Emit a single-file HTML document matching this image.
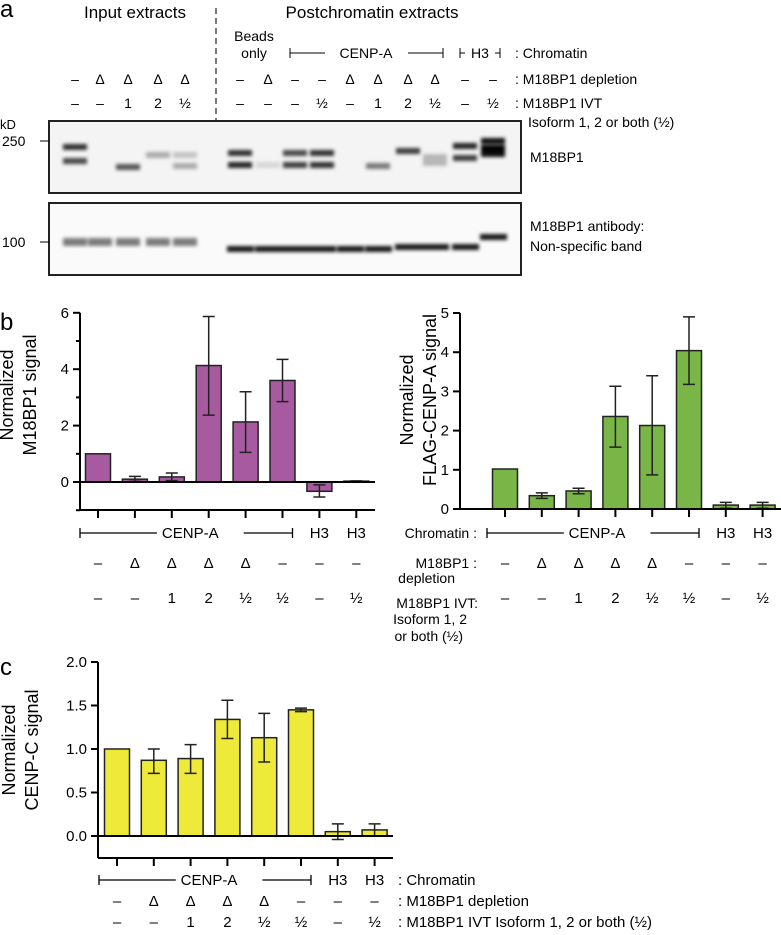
<!DOCTYPE html>
<html><head><meta charset="utf-8"><style>
body{margin:0;background:#fff;}
svg{display:block;font-family:"Liberation Sans",Arial,sans-serif;}
</style></head><body>
<svg id="fig" width="781" height="935" viewBox="0 0 781 935" xmlns="http://www.w3.org/2000/svg">
<defs><filter id="blur" x="-10%" y="-10%" width="120%" height="120%"><feGaussianBlur stdDeviation="1.8"/></filter></defs>
<g id="panelA">
<text x="0" y="17" font-size="24">a</text>
<text x="135" y="18" font-size="17" text-anchor="middle">Input extracts</text>
<text x="372" y="18" font-size="17" text-anchor="middle">Postchromatin extracts</text>
<line x1="216" y1="8" x2="216" y2="120" stroke="#333" stroke-width="1.3" stroke-dasharray="6,4"/>
<text x="254" y="41" font-size="14" text-anchor="middle">Beads</text>
<text x="254" y="58" font-size="14" text-anchor="middle">only</text>
<g stroke="#000" stroke-width="1"><line x1="290" y1="53" x2="325" y2="53"/><line x1="290" y1="48" x2="290" y2="58"/><line x1="408" y1="53" x2="443" y2="53"/><line x1="443" y1="48" x2="443" y2="58"/><line x1="460" y1="48" x2="460" y2="58"/><line x1="460" y1="53" x2="465" y2="53"/><line x1="495" y1="53" x2="500" y2="53"/><line x1="500" y1="48" x2="500" y2="58"/></g>
<text x="366" y="58" font-size="14" text-anchor="middle">CENP-A</text>
<text x="480" y="58" font-size="14" text-anchor="middle">H3</text>
<text x="515" y="58" font-size="14">: Chromatin</text>
<text x="515" y="84" font-size="14">: M18BP1 depletion</text>
<text x="515" y="108" font-size="14">: M18BP1 IVT</text>
<text x="528" y="127" font-size="14">Isoform 1, 2 or both (½)</text>
<text x="0" y="129" font-size="13">kD</text>
<g id="gelRows"></g>
<rect x="49" y="121" width="472" height="72" fill="#f4f4f4" stroke="#222" stroke-width="2"/>
<rect x="49" y="203" width="472" height="72" fill="#fafafa" stroke="#222" stroke-width="2"/>
<g id="bands" filter="url(#blur)"></g>
<text x="2" y="146" font-size="14">250</text>
<line x1="40" y1="141" x2="49" y2="141" stroke="#000"/>
<text x="2" y="247" font-size="14">100</text>
<line x1="40" y1="242" x2="49" y2="242" stroke="#000"/>
<text x="530" y="162" font-size="14">M18BP1</text>
<text x="530" y="231" font-size="14">M18BP1 antibody:</text>
<text x="530" y="251" font-size="14">Non-specific band</text>
</g>
<text x="0" y="330" font-size="24">b</text>
<text x="0" y="675" font-size="24">c</text>
<g id="chartB1"></g>
<g id="chartB2"></g>
<g id="chartC"></g>
</svg>
<script>
// ---- data ----
const conditions = ["CENP-A","CENP-A Δ","CENP-A Δ+1","CENP-A Δ+2","CENP-A Δ+1/2","CENP-A +1/2","H3","H3 +1/2"];
const depletionRow = ["–","Δ","Δ","Δ","Δ","–","–","–"];
const ivtRow = ["–","–","1","2","½","½","–","½"];
const m18Values = [1.0, 0.1, 0.18, 4.13, 2.13, 3.6, -0.33, 0.03];
const m18Lo = [1.0, 0.02, 0.05, 2.37, 1.05, 2.85, -0.53, 0.02];
const m18Hi = [1.0, 0.2, 0.32, 5.87, 3.2, 4.35, -0.1, 0.04];
const m18Ticks = [0, 2, 4, 6];
const flagValues = [1.02, 0.34, 0.46, 2.36, 2.13, 4.04, 0.1, 0.1];
const flagLo = [1.02, 0.27, 0.39, 1.58, 0.87, 3.18, 0.02, 0.02];
const flagHi = [1.02, 0.41, 0.53, 3.13, 3.4, 4.9, 0.17, 0.17];
const flagTicks = [0, 1, 2, 3, 4, 5];
const cenpcValues = [1.0, 0.87, 0.89, 1.34, 1.13, 1.45, 0.05, 0.07];
const cenpcLo = [1.0, 0.72, 0.72, 1.12, 0.85, 1.43, -0.04, 0.0];
const cenpcHi = [1.0, 1.0, 1.05, 1.56, 1.41, 1.47, 0.14, 0.14];
const cenpcTicks = ["0.0", "0.5", "1.0", "1.5", "2.0"];
const gelDepletion = ["–","Δ","Δ","Δ","Δ","–","Δ","–","–","Δ","Δ","Δ","Δ","–","–"];
const gelIvt = ["–","–","1","2","½","–","–","–","½","–","1","2","½","–","½"];

const NS = "http://www.w3.org/2000/svg";
function el(parent, tag, attrs, text){const e=document.createElementNS(NS,tag);for(const k in attrs)e.setAttribute(k,attrs[k]);if(text!==undefined)e.textContent=text;parent.appendChild(e);return e;}

function chart(g, o){
  const y = v => o.y0 - (v - 0) * o.ppu;
  const x = i => o.x0 + o.first + i * o.step;
  const ax = el(g,'line',{x1:o.x0,y1:y(o.ymax),x2:o.x0,y2:o.yBottom,stroke:'#000','stroke-width':2});
  
  
  o.ticks.forEach(t=>{
    const v=parseFloat(t);
    el(g,'line',{x1:o.x0-7,y1:y(v),x2:o.x0,y2:y(v),stroke:'#000','stroke-width':2});
    const tl=el(g,'text',{x:o.x0-11,y:y(v)+5,'font-size':15,'text-anchor':'end'},String(t));
    
    
  });
  if(o.minor) o.minor.forEach(v=>el(g,'line',{x1:o.x0-4,y1:y(v),x2:o.x0,y2:y(v),stroke:'#000','stroke-width':2}));
  o.values.forEach((v,i)=>{
    const top=Math.min(y(v),y(0)), h=Math.abs(y(v)-y(0));
    const b=el(g,'rect',{x:x(i)-o.bw/2,y:top,width:o.bw,height:Math.max(h,1),fill:o.color,stroke:'#222','stroke-width':1.5});
    
    
    if(o.hi[i]!==o.lo[i]){
      const e=el(g,'path',{d:`M${x(i)} ${y(o.hi[i])}V${y(o.lo[i])}M${x(i)-6} ${y(o.hi[i])}H${x(i)+6}M${x(i)-6} ${y(o.lo[i])}H${x(i)+6}`,stroke:'#222','stroke-width':1.5,fill:'none'});
      
      
    }
    el(g,'line',{x1:x(i),y1:o.yBottom,x2:x(i),y2:o.yBottom+8,stroke:'#000','stroke-width':2});
  });
  el(g,'line',{x1:o.x0,y1:y(0),x2:o.xEnd,y2:y(0),stroke:'#000','stroke-width':2});
  if(o.yBottom!==y(0)) el(g,'line',{x1:o.x0,y1:o.yBottom,x2:o.xEnd,y2:o.yBottom,stroke:'#000','stroke-width':2});
  const t1=el(g,'text',{transform:`translate(${o.titleX},${o.titleY}) rotate(-90)`,'font-size':18,'text-anchor':'middle'},'Normalized');
  
  
  el(g,'text',{transform:`translate(${o.titleX+23},${o.titleY}) rotate(-90)`,'font-size':18,'text-anchor':'middle'},o.title);
  const r=o.rows;
  const x0b=x(0)-18, x5=x(5)+10;
  const br=el(g,'path',{d:`M${x0b} ${r[0]-5}H${x(1)+22}M${x(3)+35} ${r[0]-5}H${x5}M${x0b} ${r[0]-10}V${r[0]}M${x5} ${r[0]-10}V${r[0]}`,stroke:'#000','stroke-width':1.3,fill:'none'});
  
  
  el(g,'text',{x:(x(2)+x(3))/2,y:r[0],'font-size':15,'text-anchor':'middle'},'CENP-A');
  el(g,'text',{x:x(6),y:r[0],'font-size':15,'text-anchor':'middle'},'H3');
  el(g,'text',{x:x(7),y:r[0],'font-size':15,'text-anchor':'middle'},'H3');
  depletionRow.forEach((d,i)=>el(g,'text',{x:x(i),y:r[1],'font-size':15,'text-anchor':'middle'},d));
  ivtRow.forEach((d,i)=>el(g,'text',{x:x(i),y:r[2],'font-size':15,'text-anchor':'middle'},d));
}
chart(document.getElementById('chartB1'),{x0:80,xEnd:375,first:18,step:36.9,bw:25,y0:482,ppu:28.2,ymax:6,yBottom:510,ticks:m18Ticks,minor:[1,3,5,-1],values:m18Values,lo:m18Lo,hi:m18Hi,color:'#a85aa0',title:'M18BP1 signal',titleX:13,titleY:395,rows:[538,568,603]});
chart(document.getElementById('chartB2'),{x0:460,xEnd:781,first:45,step:36.8,bw:25,y0:509,ppu:39.2,ymax:5,yBottom:509,ticks:flagTicks,values:flagValues,lo:flagLo,hi:flagHi,color:'#79b547',title:'FLAG-CENP-A signal',titleX:413,titleY:400,rows:[538,568,603]});
chart(document.getElementById('chartC'),{x0:98,xEnd:393,first:19,step:36.8,bw:25,y0:836,ppu:87,ymax:2,yBottom:858,ticks:cenpcTicks,values:cenpcValues,lo:cenpcLo,hi:cenpcHi,color:'#eeea3a',title:'CENP-C signal',titleX:15,titleY:750,rows:[885,906,927]});

const b2=document.getElementById('chartB2');
[["Chromatin  :",477,538],["M18BP1  :",477,568],["depletion",455,583],["M18BP1 IVT:",478,608],["Isoform 1, 2",467,624],["or both (½)",463,641]].forEach(([t,xx,yy])=>{
  const lt=el(b2,'text',{x:xx,y:yy,'font-size':14,'text-anchor':'end'},t);
  
  
});
const c=document.getElementById('chartC');
el(c,'text',{x:398,y:885,'font-size':15},': Chromatin');
el(c,'text',{x:398,y:906,'font-size':15},': M18BP1 depletion');
el(c,'text',{x:398,y:927,'font-size':15},': M18BP1 IVT Isoform 1, 2 or both (½)');

const laneX=[75,100,128,158,185,240,268,295,322,350,378,408,435,465,493];
const gr=document.getElementById('gelRows');
gelDepletion.forEach((d,i)=>el(gr,'text',{x:laneX[i],y:84,'font-size':14,'text-anchor':'middle'},d));
gelIvt.forEach((d,i)=>el(gr,'text',{x:laneX[i],y:108,'font-size':14,'text-anchor':'middle'},d));
const topBands=[[0,147,.8],[0,161,.7],[2,167,.65],[3,155,.3],[4,155,.2],[4,166,.3],[5,153,.8],[5,165,.85],[6,165,.12],[7,153,.7],[7,165,.75],[8,153,.8],[8,165,.8],[10,166,.5],[11,151,.75],[12,157,.25],[12,163,.25],[13,146,.85],[13,158,.75],[14,141,.95],[14,148,1],[14,154,.95]];
const bands=document.getElementById('bands');
topBands.forEach(([l,yy,d])=>{const r=el(bands,'rect',{x:laneX[l]-12,y:yy-3,width:24,height:6,fill:'#000','fill-opacity':d});});
for(let i=0;i<15;i++){
  if(i<5){el(bands,'rect',{x:laneX[i]-12,y:238,width:24,height:8,fill:'#000','fill-opacity':.5});}
  else{el(bands,'rect',{x:laneX[i]-13,y:i===14?234:(i>10?244:246),width:27,height:6,fill:'#000','fill-opacity':.9});}
}
</script>
</body></html>
